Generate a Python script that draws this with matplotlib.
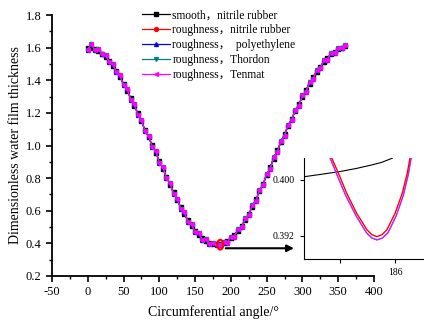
import matplotlib
matplotlib.use("Agg")
import matplotlib.pyplot as plt
from matplotlib.patches import Ellipse

plt.rcParams['font.family'] = ['Liberation Serif', 'Noto Sans CJK SC', 'DejaVu Sans']
plt.rcParams['axes.unicode_minus'] = False

# ---------------- data ----------------
angle = list(range(0, 361, 5))
smooth_nitrile = [1.600, 1.597, 1.590, 1.578, 1.563, 1.543, 1.520, 1.490, 1.458, 1.420,
                  1.380, 1.337, 1.292, 1.245, 1.198, 1.148, 1.098, 1.050, 1.003, 0.955,
                  0.905, 0.857, 0.808, 0.760, 0.712, 0.665, 0.622, 0.580, 0.543, 0.508,
                  0.478, 0.452, 0.432, 0.415, 0.404, 0.397, 0.395, 0.396, 0.402, 0.413,
                  0.430, 0.452, 0.478, 0.508, 0.543, 0.582, 0.625, 0.670, 0.718, 0.767,
                  0.817, 0.868, 0.920, 0.970, 1.020, 1.070, 1.118, 1.165, 1.210, 1.255,
                  1.298, 1.340, 1.380, 1.418, 1.452, 1.484, 1.512, 1.537, 1.558, 1.576,
                  1.590, 1.600, 1.607]
rough_nitrile = [1.588, 1.622, 1.585, 1.593, 1.558, 1.555, 1.512, 1.502, 1.448, 1.430,
                 1.370, 1.347, 1.282, 1.255, 1.188, 1.158, 1.088, 1.060, 0.993, 0.965,
                 0.895, 0.867, 0.798, 0.770, 0.702, 0.675, 0.612, 0.590, 0.533, 0.518,
                 0.468, 0.462, 0.422, 0.425, 0.394, 0.405, 0.390, 0.392, 0.410, 0.405,
                 0.440, 0.442, 0.488, 0.498, 0.553, 0.572, 0.635, 0.660, 0.728, 0.757,
                 0.827, 0.858, 0.930, 0.960, 1.030, 1.060, 1.128, 1.155, 1.220, 1.245,
                 1.308, 1.330, 1.390, 1.408, 1.462, 1.474, 1.522, 1.527, 1.568, 1.566,
                 1.600, 1.595, 1.617]
rough_polyethylene = list(rough_nitrile)
rough_thordon = list(rough_nitrile)
rough_tenmat = list(rough_nitrile)

labels = ['smooth，nitrile rubber', 'roughness，nitrile rubber',
          'roughness，  polyethylene', 'roughness，Thordon', 'roughness，Tenmat']
colors = ['black', 'red', 'blue', '#008080', 'magenta']
markers = ['s', 'o', '^', 'v', '<']

# inset (zoom near the minimum)
zoom_smooth_x = [184.36, 184.70, 185.00, 185.30, 185.55, 185.75, 185.95]
zoom_smooth_y = [0.40047, 0.40085, 0.40120, 0.40165, 0.40210, 0.40250, 0.40312]
zoom_red_x = [184.85, 184.97, 185.12, 185.30, 185.49, 185.58, 185.67, 185.76, 185.85,
              186.00, 186.13, 186.22, 186.27]
zoom_red_y = [0.40312, 0.40096, 0.39809, 0.39522, 0.39282, 0.39212, 0.39186, 0.39212,
              0.39282, 0.39522, 0.39809, 0.40096, 0.40312]
zoom_mag_x = [184.82, 184.94, 185.10, 185.29, 185.48, 185.58, 185.67, 185.77, 185.87,
              186.02, 186.15, 186.24, 186.29]
zoom_mag_y = [0.40312, 0.40080, 0.39780, 0.39485, 0.39240, 0.39165, 0.39138, 0.39165,
              0.39240, 0.39485, 0.39780, 0.40080, 0.40312]
zoom_blue_x = zoom_mag_x
zoom_blue_y = zoom_mag_y

# ---------------- figure ----------------
fig = plt.figure(figsize=(4.24, 3.25), dpi=100)
ax = fig.add_axes([0.1226, 0.1508, 0.7594, 0.803])

series = [smooth_nitrile, rough_nitrile, rough_polyethylene, rough_thordon, rough_tenmat]
handles = []
for vals, lab, c, m in zip(series, labels, colors, markers):
    h, = ax.plot(angle, vals, color=c, marker=m, markersize=2.8, linewidth=0.9,
                 label=lab)
    handles.append(h)

ax.set_xlim(-50, 400)
ax.set_ylim(0.2, 1.8)
ax.set_xticks(range(-50, 401, 50))
ax.set_xticks(range(-25, 400, 50), minor=True)
ax.set_yticks([0.2, 0.4, 0.6, 0.8, 1.0, 1.2, 1.4, 1.6, 1.8])
ax.set_yticks([0.3, 0.5, 0.7, 0.9, 1.1, 1.3, 1.5, 1.7], minor=True)
ax.spines['top'].set_visible(False)
ax.spines['right'].set_visible(False)
for s in ['left', 'bottom']:
    ax.spines[s].set_linewidth(1.3)
ax.tick_params(which='major', direction='out', length=4, width=1.2, labelsize=9)
ax.tick_params(which='minor', direction='out', length=2.5, width=1.0)
ax.set_xlabel('Circumferential angle/°', fontsize=10, labelpad=5)
ax.set_ylabel('Dimensionless water film thickness', fontsize=10, labelpad=3)

# marker of the zoomed region and arrow
ax.add_patch(Ellipse((185.2, 0.392), 8.5, 0.06, fill=False, edgecolor='red', linewidth=1.5,
                     zorder=10))
ax.annotate('', xy=(292, 0.37), xytext=(189, 0.37),
            arrowprops=dict(arrowstyle='-|>', color='black', lw=1.5,
                            mutation_scale=10), zorder=10)

leg = fig.legend(handles=handles, loc='upper left', bbox_to_anchor=(0.325, 0.985),
                 frameon=False, fontsize=8.3, handlelength=2.4, handletextpad=0.2,
                 labelspacing=0.25, borderaxespad=0)

# ---------------- inset ----------------
axin = fig.add_axes([0.7163, 0.2022, 0.30, 0.3107])
axin.plot(zoom_smooth_x, zoom_smooth_y, color='black', linewidth=0.8)
axin.plot(zoom_mag_x, zoom_mag_y, color='magenta', linewidth=1.0)
axin.plot(zoom_blue_x, zoom_blue_y, color='#8a3cff', linewidth=0.6)
axin.plot(zoom_red_x, zoom_red_y, color='red', linewidth=1.0)
axin.set_xlim(184.34, 186.65)
axin.set_ylim(0.3886, 0.4031)
axin.set_xticks([185, 186])
axin.set_xticklabels(['', '186'])
axin.set_yticks([0.392, 0.400])
axin.set_yticklabels(['0.392', '0.400'])
axin.spines['top'].set_visible(False)
axin.spines['right'].set_visible(False)
axin.tick_params(direction='out', length=3, width=0.8, labelsize=7)
axin.patch.set_alpha(0)

fig.savefig('out.png', dpi=100)
